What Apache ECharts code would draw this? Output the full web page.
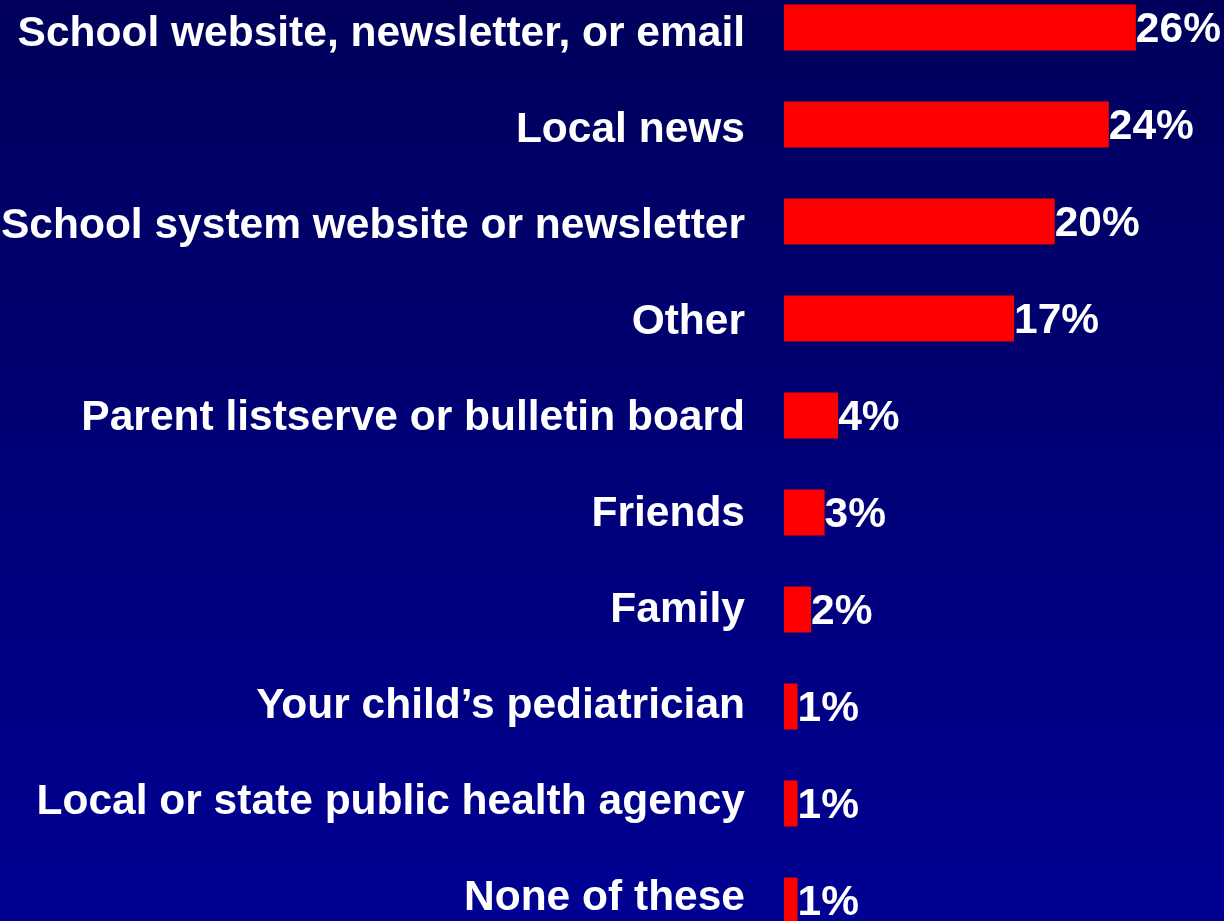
<!DOCTYPE html>
<html>
<head>
<meta charset="utf-8">
<script src="https://cdn.jsdelivr.net/npm/echarts@6/dist/echarts.min.js"></script>
<style>
html,body{margin:0;padding:0;width:1224px;height:921px;overflow:hidden;background:#000070;}
#chart{position:absolute;left:0;top:-21px;width:1224px;height:970px;}
</style>
</head>
<body>
<div id="chart"></div>
<script>
const categories = [
  "School website, newsletter, or email",
  "Local news",
  "School system website or newsletter",
  "Other",
  "Parent listserve or bulletin board",
  "Friends",
  "Family",
  "Your child\u2019s pediatrician",
  "Local or state public health agency",
  "None of these"
];
const values = [26, 24, 20, 17, 4, 3, 2, 1, 1, 1];

const chart = echarts.init(document.getElementById('chart'), null, {renderer: 'canvas'});
const font = '"Liberation Sans", Arial, Helvetica, sans-serif';
chart.setOption({
  animation: false,
  backgroundColor: {
    type: 'linear', x: 0, y: 0, x2: 0, y2: 1,
    colorStops: [{offset: 0, color: '#00005A'}, {offset: 1, color: '#000094'}]
  },
  grid: [
    {left: 784, right: 34, top: 0, bottom: 0, containLabel: false, outerBoundsMode: 'none'},
    {left: 784, right: 34, top: 7.5, bottom: 3, containLabel: false, outerBoundsMode: 'none'}
  ],
  xAxis: [
    {type: 'value', gridIndex: 0, min: 0, max: 30, show: false, splitLine: {show: false}},
    {type: 'value', gridIndex: 1, min: 0, max: 30, show: false, splitLine: {show: false}}
  ],
  yAxis: [
    {
      type: 'category', gridIndex: 0, data: categories, inverse: true,
      axisLine: {show: false}, axisTick: {show: false}, splitLine: {show: false},
      axisLabel: {show: false}
    },
    {
      type: 'category', gridIndex: 1, data: categories, inverse: true,
      axisLine: {show: false}, axisTick: {show: false}, splitLine: {show: false},
      axisLabel: {
        color: '#ffffff', fontFamily: font, fontWeight: 'bold', fontSize: 42.5,
        margin: 39
      }
    }
  ],
  series: [{
    type: 'bar', xAxisIndex: 0, yAxisIndex: 0, data: values, barWidth: 46,
    itemStyle: {color: '#FF0000'},
    label: {
      show: true, position: 'right', distance: 0, offset: [0, 2.5],
      formatter: '{c}%', color: '#ffffff',
      fontFamily: font, fontWeight: 'bold', fontSize: 42.5
    }
  }]
});
</script>
</body>
</html>
